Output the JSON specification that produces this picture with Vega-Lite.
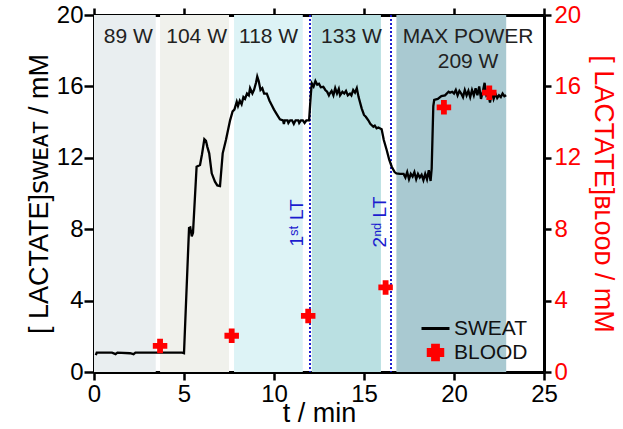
{
  "$schema": "https://vega.github.io/schema/vega-lite/v6.json",
  "width": 450,
  "height": 357,
  "autosize": {"type": "none"},
  "padding": {"left": 94, "top": 15, "right": 79, "bottom": 57},
  "config": {
    "view": {"stroke": null},
    "font": "Liberation Sans, DejaVu Sans",
    "axis": {
      "grid": false,
      "domainColor": "#000000",
      "domainWidth": 3,
      "tickColor": "#000000",
      "tickWidth": 2.5,
      "labelColor": "#000000",
      "titleColor": "#000000",
      "labelFont": "Liberation Sans",
      "titleFont": "Liberation Sans, DejaVu Sans",
      "labelFontSize": 24,
      "titleFontSize": 27,
      "titleFontWeight": "normal",
      "labelFlush": false,
      "labelOverlap": false
    }
  },
  "datasets": {
    "bands": [
      {"stage": "89 W", "start": 0, "end": 3.43},
      {"stage": "104 W", "start": 3.67, "end": 7.5},
      {"stage": "118 W", "start": 7.78, "end": 11.6},
      {"stage": "133 W", "start": 12.1, "end": 15.94},
      {"stage": "MAX POWER 209 W", "start": 16.8, "end": 22.9}
    ],
    "stagelabels": [
      {"label": "89 W", "t": 1.9, "v": 18.77},
      {"label": "104 W", "t": 5.7, "v": 18.77},
      {"label": "118 W", "t": 9.7, "v": 18.77},
      {"label": "133 W", "t": 14.3, "v": 18.77},
      {"label": "MAX POWER", "t": 20.78, "v": 18.77},
      {"label": "209 W", "t": 20.78, "v": 17.38}
    ],
    "thresholds": [
      {"t": 12.0, "lt": 11.26, "lv": 8.35, "label": "1ˢᵗ LT"},
      {"t": 16.5, "lt": 15.89, "lv": 8.4, "label": "2ⁿᵈ LT"}
    ],
    "blood": [
      {"t": 3.67, "v": 1.46},
      {"t": 7.65, "v": 2.03},
      {"t": 11.9, "v": 3.14},
      {"t": 16.2, "v": 4.74},
      {"t": 19.44, "v": 14.83},
      {"t": 21.96, "v": 15.65}
    ],
    "sweat": [
      {"t": 0.1, "v": 0.95}, {"t": 0.15, "v": 1.08}, {"t": 1.0, "v": 1.08}, {"t": 1.2, "v": 1.0}, {"t": 1.3, "v": 1.08},
      {"t": 2.0, "v": 1.05}, {"t": 2.2, "v": 1.0}, {"t": 2.3, "v": 1.08}, {"t": 3.0, "v": 1.08}, {"t": 4.9, "v": 1.08},
      {"t": 5.0, "v": 1.05}, {"t": 5.28, "v": 8.07}, {"t": 5.35, "v": 8.1}, {"t": 5.43, "v": 7.6}, {"t": 5.5, "v": 7.8},
      {"t": 5.7, "v": 11.5}, {"t": 5.89, "v": 11.6}, {"t": 6.0, "v": 12.2}, {"t": 6.13, "v": 13.04}, {"t": 6.22, "v": 12.95},
      {"t": 6.3, "v": 12.6}, {"t": 6.4, "v": 12.25}, {"t": 6.54, "v": 11.13}, {"t": 6.72, "v": 10.66}, {"t": 6.85, "v": 10.45},
      {"t": 7.0, "v": 10.42}, {"t": 7.15, "v": 12.25}, {"t": 7.33, "v": 13.0}, {"t": 7.56, "v": 14.1}, {"t": 7.7, "v": 14.6},
      {"t": 7.8, "v": 14.7}, {"t": 7.93, "v": 15.14}, {"t": 8.0, "v": 14.9}, {"t": 8.1, "v": 15.2}, {"t": 8.2, "v": 15.0},
      {"t": 8.3, "v": 15.4}, {"t": 8.39, "v": 15.3}, {"t": 8.5, "v": 15.6}, {"t": 8.6, "v": 15.5}, {"t": 8.67, "v": 15.9},
      {"t": 8.8, "v": 15.6}, {"t": 8.89, "v": 15.8}, {"t": 9.0, "v": 16.2}, {"t": 9.07, "v": 16.55}, {"t": 9.15, "v": 16.3},
      {"t": 9.25, "v": 15.8}, {"t": 9.35, "v": 15.9}, {"t": 9.45, "v": 15.6}, {"t": 9.6, "v": 15.6}, {"t": 9.75, "v": 15.2},
      {"t": 9.87, "v": 14.96}, {"t": 10.0, "v": 14.7}, {"t": 10.15, "v": 14.45}, {"t": 10.33, "v": 14.16}, {"t": 10.5, "v": 14.1},
      {"t": 10.55, "v": 13.9}, {"t": 10.6, "v": 14.1}, {"t": 10.75, "v": 14.1}, {"t": 10.8, "v": 13.95}, {"t": 10.9, "v": 14.1},
      {"t": 11.0, "v": 14.1}, {"t": 11.1, "v": 13.9}, {"t": 11.2, "v": 14.1}, {"t": 11.35, "v": 14.1}, {"t": 11.4, "v": 13.95},
      {"t": 11.5, "v": 14.1}, {"t": 11.6, "v": 14.1}, {"t": 11.7, "v": 13.95}, {"t": 11.8, "v": 14.1}, {"t": 11.95, "v": 14.1},
      {"t": 12.05, "v": 15.6}, {"t": 12.1, "v": 16.17}, {"t": 12.2, "v": 16.0}, {"t": 12.3, "v": 16.3}, {"t": 12.4, "v": 16.1},
      {"t": 12.5, "v": 16.15}, {"t": 12.6, "v": 15.95}, {"t": 12.74, "v": 15.98}, {"t": 12.85, "v": 15.8}, {"t": 12.95, "v": 15.7},
      {"t": 13.05, "v": 15.5}, {"t": 13.1, "v": 15.6}, {"t": 13.2, "v": 15.75}, {"t": 13.3, "v": 15.5}, {"t": 13.4, "v": 15.9},
      {"t": 13.5, "v": 15.6}, {"t": 13.6, "v": 15.85}, {"t": 13.67, "v": 15.5}, {"t": 13.8, "v": 15.7}, {"t": 13.9, "v": 15.6},
      {"t": 14.0, "v": 15.75}, {"t": 14.1, "v": 15.5}, {"t": 14.22, "v": 15.6}, {"t": 14.3, "v": 15.5}, {"t": 14.4, "v": 15.8},
      {"t": 14.5, "v": 15.65}, {"t": 14.6, "v": 15.9}, {"t": 14.7, "v": 15.4}, {"t": 14.87, "v": 14.77}, {"t": 15.0, "v": 14.4},
      {"t": 15.1, "v": 14.3}, {"t": 15.24, "v": 14.1}, {"t": 15.35, "v": 13.9}, {"t": 15.52, "v": 13.74}, {"t": 15.6, "v": 13.8},
      {"t": 15.7, "v": 13.65}, {"t": 15.8, "v": 13.7}, {"t": 15.98, "v": 13.6}, {"t": 16.1, "v": 13.0}, {"t": 16.26, "v": 12.44},
      {"t": 16.4, "v": 11.9}, {"t": 16.54, "v": 11.5}, {"t": 16.7, "v": 11.2}, {"t": 16.8, "v": 11.13}, {"t": 17.0, "v": 11.1},
      {"t": 17.2, "v": 11.1}, {"t": 17.3, "v": 10.9}, {"t": 17.4, "v": 11.2}, {"t": 17.5, "v": 10.8}, {"t": 17.6, "v": 11.1},
      {"t": 17.7, "v": 10.95}, {"t": 17.8, "v": 11.2}, {"t": 17.9, "v": 10.8}, {"t": 18.0, "v": 11.1}, {"t": 18.1, "v": 10.9},
      {"t": 18.2, "v": 11.05}, {"t": 18.3, "v": 10.75}, {"t": 18.4, "v": 11.1}, {"t": 18.5, "v": 10.8}, {"t": 18.6, "v": 11.3},
      {"t": 18.7, "v": 10.7}, {"t": 18.76, "v": 11.4}, {"t": 18.85, "v": 14.9}, {"t": 18.9, "v": 15.24}, {"t": 19.1, "v": 15.3},
      {"t": 19.3, "v": 15.46}, {"t": 19.5, "v": 15.5}, {"t": 19.7, "v": 15.7}, {"t": 19.78, "v": 15.65}, {"t": 19.9, "v": 15.7},
      {"t": 20.0, "v": 15.6}, {"t": 20.1, "v": 15.8}, {"t": 20.2, "v": 15.5}, {"t": 20.3, "v": 15.75}, {"t": 20.4, "v": 15.6},
      {"t": 20.5, "v": 15.4}, {"t": 20.6, "v": 15.8}, {"t": 20.7, "v": 15.5}, {"t": 20.8, "v": 15.75}, {"t": 20.9, "v": 15.4},
      {"t": 21.0, "v": 15.8}, {"t": 21.1, "v": 15.5}, {"t": 21.2, "v": 15.9}, {"t": 21.3, "v": 15.5}, {"t": 21.4, "v": 16.0},
      {"t": 21.5, "v": 15.3}, {"t": 21.6, "v": 15.7}, {"t": 21.7, "v": 16.2}, {"t": 21.8, "v": 15.5}, {"t": 21.9, "v": 15.6},
      {"t": 22.0, "v": 15.1}, {"t": 22.1, "v": 15.7}, {"t": 22.2, "v": 15.3}, {"t": 22.3, "v": 15.6}, {"t": 22.4, "v": 15.35},
      {"t": 22.5, "v": 15.5}, {"t": 22.6, "v": 15.4}, {"t": 22.7, "v": 15.6}, {"t": 22.8, "v": 15.45}, {"t": 22.9, "v": 15.5}
    ]
  },
  "layer": [
    {
      "layer": [
        {
          "data": {"name": "bands"},
          "mark": {"type": "rect"},
          "encoding": {
            "x": {"field": "start", "type": "quantitative", "scale": {"domain": [0, 25], "nice": false, "zero": false},
              "axis": {"orient": "bottom", "values": [0, 5, 10, 15, 20, 25], "title": "t / min", "tickSize": 8, "labelPadding": 2, "titlePadding": -6}},
            "x2": {"field": "end"},
            "fill": {"field": "stage", "type": "nominal", "legend": null,
              "scale": {"domain": ["89 W", "104 W", "118 W", "133 W", "MAX POWER 209 W"],
                "range": ["#e9eef0", "#f0f1ec", "#ddf3f6", "#bae0e2", "#a9c9d1"]}}
          }
        },
        {
          "data": {"name": "thresholds"},
          "mark": {"type": "rule", "color": "#1c1ccf", "strokeWidth": 2, "strokeDash": [2, 2]},
          "encoding": {
            "x": {"field": "t", "type": "quantitative",
              "axis": {"orient": "bottom", "values": [0, 5, 10, 15, 20, 25], "title": "t / min", "tickSize": 8, "labelPadding": 2, "titlePadding": -6}}
          }
        },
        {
          "data": {"name": "thresholds"},
          "mark": {"type": "text", "color": "#1c1ccf", "fontSize": 19, "angle": 270, "align": "center", "baseline": "middle", "font": "Liberation Sans, DejaVu Sans"},
          "encoding": {
            "x": {"field": "lt", "type": "quantitative",
              "axis": {"orient": "bottom", "values": [0, 5, 10, 15, 20, 25], "title": "t / min", "tickSize": 8, "labelPadding": 2, "titlePadding": -6}},
            "y": {"field": "lv", "type": "quantitative", "scale": {"domain": [0, 20], "nice": false, "zero": false},
              "axis": {"orient": "left", "values": [0, 4, 8, 12, 16, 20], "title": "[ LACTATE]ꜱᴡᴇᴀᴛ / mM", "tickSize": 10, "labelPadding": 1, "titlePadding": 3}},
            "text": {"field": "label"}
          }
        },
        {
          "data": {"name": "stagelabels"},
          "mark": {"type": "text", "color": "#222222", "fontSize": 21, "align": "center", "baseline": "middle", "font": "Liberation Sans"},
          "encoding": {
            "x": {"field": "t", "type": "quantitative",
              "axis": {"orient": "bottom", "values": [0, 5, 10, 15, 20, 25], "title": "t / min", "tickSize": 8, "labelPadding": 2, "titlePadding": -6}},
            "y": {"field": "v", "type": "quantitative",
              "axis": {"orient": "left", "values": [0, 4, 8, 12, 16, 20], "title": "[ LACTATE]ꜱᴡᴇᴀᴛ / mM", "tickSize": 10, "labelPadding": 1, "titlePadding": 3}},
            "text": {"field": "label"}
          }
        },
        {
          "data": {"name": "sweat"},
          "mark": {"type": "line", "strokeWidth": 2.3, "interpolate": "linear"},
          "encoding": {
            "x": {"field": "t", "type": "quantitative",
              "axis": {"orient": "bottom", "values": [0, 5, 10, 15, 20, 25], "title": "t / min", "tickSize": 8, "labelPadding": 2, "titlePadding": -6}},
            "y": {"field": "v", "type": "quantitative",
              "axis": {"orient": "left", "values": [0, 4, 8, 12, 16, 20], "title": "[ LACTATE]ꜱᴡᴇᴀᴛ / mM", "tickSize": 10, "labelPadding": 1, "titlePadding": 3}},
            "color": {"datum": "SWEAT", "type": "nominal",
              "scale": {"domain": ["SWEAT", "BLOOD"], "range": ["#000000", "#ff0000"]},
              "legend": {"title": null, "orient": "none", "legendX": 331, "legendY": 303, "padding": 0,
                "labelFontSize": 21, "labelFont": "Liberation Sans", "labelColor": "#111111",
                "rowPadding": 0, "labelOffset": 8, "symbolStrokeWidth": 3,
                "encode": {"symbols": {"update": {
                  "shape": {"signal": "datum.value === 'SWEAT' ? 'stroke' : 'cross'"},
                  "size": {"signal": "datum.value === 'SWEAT' ? 784 : 210"},
                  "fill": {"signal": "datum.value === 'SWEAT' ? 'transparent' : '#ff0000'"},
                  "stroke": {"signal": "datum.value === 'SWEAT' ? '#000000' : 'transparent'"},
                  "strokeWidth": {"value": 3},
                  "opacity": {"value": 1}
                }}}}
            }
          }
        }
      ]
    },
    {
      "data": {"name": "blood"},
      "mark": {"type": "point", "shape": "cross", "filled": true, "size": 210, "opacity": 1},
      "encoding": {
        "x": {"field": "t", "type": "quantitative", "scale": {"domain": [0, 25], "nice": false, "zero": false},
          "axis": {"orient": "top", "values": [0, 5, 10, 15, 20, 25], "labels": false, "title": null, "tickSize": 7}},
        "y": {"field": "v", "type": "quantitative", "scale": {"domain": [0, 20], "nice": false, "zero": false},
          "axis": {"orient": "right", "values": [0, 4, 8, 12, 16, 20], "title": "[ LACTATE]ʙʟᴏᴏᴅ / mM", "labelColor": "#ff0000", "titleColor": "#ff0000", "tickSize": 7, "labelPadding": 3, "titlePadding": 8}},
        "color": {"datum": "BLOOD", "type": "nominal",
          "scale": {"domain": ["SWEAT", "BLOOD"], "range": ["#000000", "#ff0000"]},
          "legend": {"title": null, "orient": "none", "legendX": 331, "legendY": 303, "padding": 0,
            "labelFontSize": 21, "labelFont": "Liberation Sans", "labelColor": "#111111",
            "rowPadding": 0, "labelOffset": 8, "symbolStrokeWidth": 3,
            "encode": {"symbols": {"update": {
              "shape": {"signal": "datum.value === 'SWEAT' ? 'stroke' : 'cross'"},
              "size": {"signal": "datum.value === 'SWEAT' ? 784 : 210"},
              "fill": {"signal": "datum.value === 'SWEAT' ? 'transparent' : '#ff0000'"},
              "stroke": {"signal": "datum.value === 'SWEAT' ? '#000000' : 'transparent'"},
              "strokeWidth": {"value": 3},
              "opacity": {"value": 1}
            }}}}
        }
      }
    }
  ],
  "resolve": {"scale": {"x": "independent", "y": "independent"}}
}
